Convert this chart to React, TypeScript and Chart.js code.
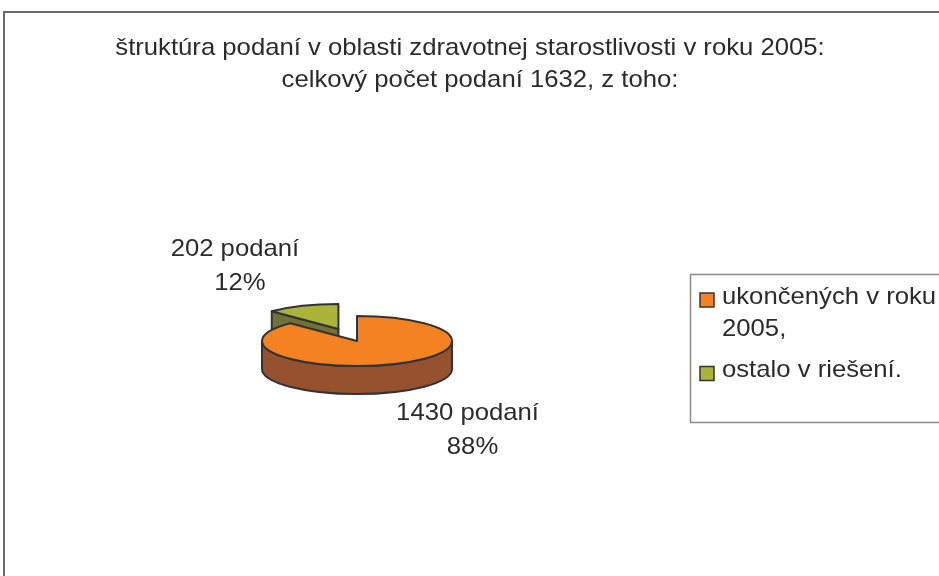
import React, { useEffect, useRef } from 'react';
import { Chart, registerables } from 'chart.js';

Chart.register(...registerables);

// ---- data ----
const TITLE_LINES = [
  'štruktúra podaní v oblasti zdravotnej starostlivosti v roku 2005:',
  'celkový počet podaní 1632, z toho:',
];
const CATEGORIES = ['ukončených v roku 2005,', 'ostalo v riešení.'];
const VALUES = [1430, 202];
const LABEL_UNIT = 'podaní';

// ---- styles ----
const TOP_COLORS = ['#F58220', '#A9B438'];
const SIDE_COLORS = ['#96512F', '#6F7139'];
const EXPLODE = [0, 49];
const OUTLINE = '#333333';
const SQUASH = 25 / 95;
const DEPTH = 28;
const FONT = '24px "Liberation Sans", Arial, sans-serif';
const SX = 1.07;
const TEXT_COLOR = '#2b2b2b';

function drawText(ctx: CanvasRenderingContext2D, s: string, x: number, y: number, align: CanvasTextAlign) {
  ctx.save();
  ctx.font = FONT;
  ctx.fillStyle = TEXT_COLOR;
  ctx.textBaseline = 'alphabetic';
  ctx.textAlign = align;
  ctx.translate(x, y);
  ctx.scale(SX, 1);
  ctx.fillText(s, 0, 0);
  ctx.restore();
}

function textWidth(ctx: CanvasRenderingContext2D, s: string) {
  ctx.save();
  ctx.font = FONT;
  const w = ctx.measureText(s).width * SX;
  ctx.restore();
  return w;
}

function sliceGeom(el: any) {
  const p = el.getProps(['x', 'y', 'startAngle', 'endAngle', 'outerRadius'], true);
  const off = (el.options && el.options.offset) || 0;
  const mid = (p.startAngle + p.endAngle) / 2;
  const r = p.outerRadius;
  const ry = r * SQUASH;
  const ox = p.x + off * Math.cos(mid);
  const oy = p.y + off * SQUASH * Math.sin(mid);
  return { ...p, off, mid, r, ry, ox, oy };
}

function drawSlice(ctx: CanvasRenderingContext2D, g: any, top: string, side: string) {
  const { ox, oy, r, ry, startAngle: s, endAngle: e } = g;
  const P = (a: number) => [ox + r * Math.cos(a), oy + ry * Math.sin(a)];
  ctx.save();
  ctx.lineWidth = 2;
  ctx.strokeStyle = OUTLINE;
  ctx.lineJoin = 'round';
  // cut faces
  const faces: number[] = [];
  if (Math.cos(s) < -1e-6) faces.push(s);
  if (Math.cos(e) > 1e-6) faces.push(e);
  for (const f of faces) {
    const [x1, y1] = P(f);
    ctx.beginPath();
    ctx.moveTo(ox, oy);
    ctx.lineTo(x1, y1);
    ctx.lineTo(x1, y1 + DEPTH);
    ctx.lineTo(ox, oy + DEPTH);
    ctx.closePath();
    ctx.fillStyle = side;
    ctx.fill();
    ctx.stroke();
  }
  // outer wall (front half only)
  for (let k = -1; k <= 2; k++) {
    const lo = Math.max(s, 2 * Math.PI * k);
    const hi = Math.min(e, 2 * Math.PI * k + Math.PI);
    if (hi > lo + 1e-6) {
      ctx.beginPath();
      ctx.ellipse(ox, oy, r, ry, 0, lo, hi, false);
      const [hx, hy] = P(hi);
      ctx.lineTo(hx, hy + DEPTH);
      ctx.ellipse(ox, oy + DEPTH, r, ry, 0, hi, lo, true);
      ctx.closePath();
      ctx.fillStyle = side;
      ctx.fill();
      ctx.stroke();
    }
  }
  // top face
  ctx.beginPath();
  ctx.moveTo(ox, oy);
  ctx.ellipse(ox, oy, r, ry, 0, s, e, false);
  ctx.closePath();
  ctx.fillStyle = top;
  ctx.fill();
  ctx.stroke();
  ctx.restore();
}

const framePlugin = {
  id: 'frame',
  beforeDraw(chart: any) {
    const ctx = chart.ctx as CanvasRenderingContext2D;
    ctx.save();
    ctx.fillStyle = '#ffffff';
    ctx.fillRect(0, 0, chart.width, chart.height);
    ctx.strokeStyle = '#6b6b6b';
    ctx.lineWidth = 2;
    ctx.strokeRect(4, 12, chart.width + 50, chart.height + 50);
    ctx.restore();
    drawText(ctx, TITLE_LINES[0], 470, 55, 'center');
    drawText(ctx, TITLE_LINES[1], 480, 86.5, 'center');
  },
};

const pie3dPlugin = {
  id: 'pie3d',
  beforeDatasetsDraw(chart: any) {
    const ctx = chart.ctx as CanvasRenderingContext2D;
    const meta = chart.getDatasetMeta(0);
    const ds = chart.data.datasets[0];
    const items = meta.data.map((el: any, i: number) => ({ i, g: sliceGeom(el) }));
    items.sort((a: any, b: any) => Math.sin(a.g.mid) - Math.sin(b.g.mid));
    for (const it of items) {
      drawSlice(ctx, it.g, ds.backgroundColor[it.i], SIDE_COLORS[it.i]);
    }
    // data labels
    const vals: number[] = ds.data;
    const total = vals.reduce((a, b) => a + b, 0);
    meta.data.forEach((el: any, i: number) => {
      const g = sliceGeom(el);
      const c = Math.cos(g.mid);
      const sn = Math.sin(g.mid);
      const rimX = g.ox + g.r * c;
      const rimY = g.oy + g.ry * sn + (sn > 0 ? DEPTH : 0);
      const ax = rimX + 71 * Math.sign(c) + 5.5;
      const ay = rimY + 39 * Math.sign(sn) + 6;
      const pct = Math.round((vals[i] / total) * 100);
      drawText(ctx, `${vals[i]} ${LABEL_UNIT}`, ax - 2, ay - 17, 'center');
      drawText(ctx, `${pct}%`, ax + 3, ay + 17, 'center');
    });
    return false;
  },
};

const legendPlugin = {
  id: 'legend3d',
  afterDraw(chart: any) {
    const ctx = chart.ctx as CanvasRenderingContext2D;
    ctx.save();
    ctx.strokeStyle = '#8a8a8a';
    ctx.lineWidth = 1.5;
    ctx.strokeRect(690.5, 274.5, 400, 148);
    ctx.restore();
    const labels: string[] = chart.data.labels;
    const colors: string[] = chart.data.datasets[0].backgroundColor;
    const maxW = 230;
    let y = 303.5;
    labels.forEach((lab, i) => {
      // wrap
      const words = lab.split(' ');
      const lines: string[] = [];
      let cur = '';
      for (const w of words) {
        const t = cur ? cur + ' ' + w : w;
        if (textWidth(ctx, t) > maxW && cur) {
          lines.push(cur);
          cur = w;
        } else cur = t;
      }
      if (cur) lines.push(cur);
      ctx.save();
      ctx.fillStyle = colors[i];
      ctx.fillRect(700, y - 10.5, 14, 14);
      ctx.strokeStyle = OUTLINE;
      ctx.lineWidth = 1.5;
      ctx.strokeRect(700, y - 10.5, 14, 14);
      ctx.restore();
      lines.forEach((ln, j) => {
        drawText(ctx, ln, 722, y + j * 32, 'left');
      });
      y += (lines.length - 1) * 32 + 41.5;
    });
  },
};

export default function App() {
  const ref = useRef<HTMLCanvasElement | null>(null);
  useEffect(() => {
    document.body.style.margin = '0';
    const canvas = ref.current!;
    const chart = new Chart(canvas, {
      type: 'pie',
      data: {
        labels: CATEGORIES,
        datasets: [
          {
            data: VALUES,
            backgroundColor: TOP_COLORS,
            offset: EXPLODE,
            borderWidth: 0,
          } as any,
        ],
      },
      options: {
        responsive: false,
        animation: false,
        devicePixelRatio: 1,
        radius: 95,
        events: [],
        layout: { padding: { left: 201, right: 426, top: 240, bottom: 134 } },
        plugins: {
          legend: { display: false },
          title: { display: false },
          tooltip: { enabled: false },
        },
      } as any,
      plugins: [framePlugin, pie3dPlugin, legendPlugin],
    });
    return () => chart.destroy();
  }, []);
  return <canvas ref={ref} width={939} height={576} style={{ display: 'block', width: 939, height: 576 }} />;
}
